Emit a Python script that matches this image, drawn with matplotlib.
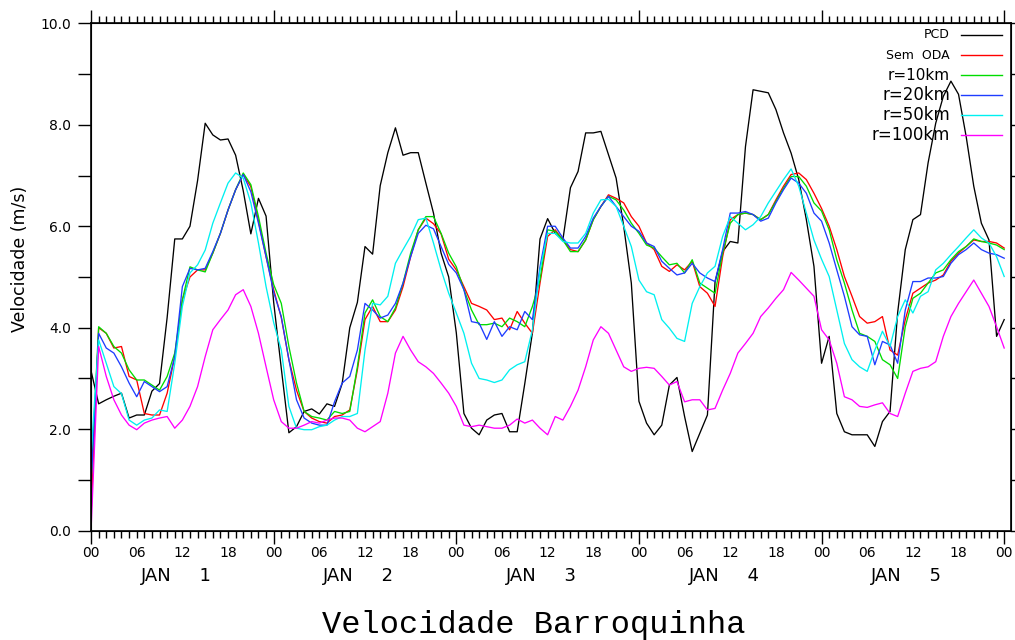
import numpy as np
import matplotlib
matplotlib.use('Agg')
import matplotlib.pyplot as plt
from matplotlib.ticker import MultipleLocator, FuncFormatter

# hourly time axis, 00Z Jan 1 to 00Z Jan 6
hours = np.arange(0, 121)
days = [1, 2, 3, 4, 5]

# observed wind speed (PCD station)
pcd = [3.15, 2.5, 2.58, 2.65, 2.71, 2.22, 2.28, 2.28, 2.75, 2.9, 4.2, 5.75, 5.75, 6.0, 6.9, 8.03, 7.8, 7.7, 7.72, 7.4, 6.7, 5.85, 6.55, 6.2,
       4.5, 3.2, 1.93, 2.05, 2.35, 2.4, 2.3, 2.5, 2.45, 2.9, 4.0, 4.5, 5.6, 5.45, 6.8, 7.45, 7.94, 7.4, 7.45, 7.45, 6.85, 6.26, 5.47, 5.0,
       3.9, 2.31, 2.02, 1.89, 2.18, 2.28, 2.31, 1.95, 1.95, 2.9, 3.9, 5.75, 6.15, 5.86, 5.73, 6.76, 7.08, 7.84, 7.84, 7.87, 7.41, 6.95, 6.0, 4.88,
       2.55, 2.12, 1.89, 2.08, 2.87, 3.02, 2.25, 1.56, 1.92, 2.28, 4.9, 5.5, 5.7, 5.67, 7.57, 8.69, 8.66, 8.63, 8.3, 7.84, 7.44, 6.92, 6.13, 5.21,
       3.3, 3.83, 2.31, 1.95, 1.89, 1.89, 1.89, 1.66, 2.15, 2.35, 4.3, 5.54, 6.13, 6.23, 7.25, 8.03, 8.56, 8.86, 8.6, 7.77, 6.79, 6.06, 5.73, 3.83, 4.16]

# model runs
sem_oda = [0.3, 4.0, 3.89, 3.6, 3.63, 3.04, 2.97, 2.31, 2.28, 2.28, 2.71, 3.43, 4.55, 5.0, 5.14, 5.14, 5.47, 5.86, 6.32, 6.72, 7.02, 6.78, 6.1, 5.4,
           4.75, 4.2, 3.37, 2.77, 2.35, 2.22, 2.15, 2.12, 2.25, 2.28, 2.38, 3.17, 4.16, 4.42, 4.12, 4.12, 4.35, 4.81, 5.4, 5.93, 6.16, 6.05, 5.85, 5.35,
           5.14, 4.81, 4.48, 4.42, 4.35, 4.16, 4.19, 3.96, 4.32, 4.09, 3.89, 4.88, 5.8, 5.93, 5.73, 5.54, 5.5, 5.73, 6.13, 6.39, 6.62, 6.55, 6.46, 6.19,
           6.0, 5.67, 5.54, 5.21, 5.11, 5.24, 5.14, 5.31, 4.81, 4.68, 4.42, 5.4, 6.13, 6.23, 6.26, 6.23, 6.13, 6.23, 6.52, 6.79, 7.02, 7.05, 6.92, 6.65,
           6.35, 6.0, 5.54, 5.01, 4.62, 4.22, 4.09, 4.12, 4.22, 3.56, 3.46, 4.16, 4.68, 4.78, 4.88, 4.94, 5.04, 5.31, 5.47, 5.6, 5.73, 5.7, 5.7, 5.67, 5.57]

r10 = [1.0, 4.02, 3.89, 3.63, 3.5, 3.17, 2.97, 2.97, 2.87, 2.77, 3.04, 3.5, 4.55, 5.2, 5.14, 5.1, 5.47, 5.86, 6.32, 6.72, 7.05, 6.82, 6.19, 5.47,
       4.85, 4.48, 3.63, 2.91, 2.35, 2.25, 2.22, 2.18, 2.35, 2.31, 2.35, 3.23, 4.29, 4.55, 4.22, 4.12, 4.39, 4.88, 5.47, 5.93, 6.19, 6.19, 5.86, 5.47,
       5.2, 4.75, 4.35, 4.06, 4.06, 4.09, 4.02, 4.19, 4.12, 4.02, 4.42, 4.94, 5.93, 5.9, 5.73, 5.5, 5.5, 5.73, 6.13, 6.39, 6.59, 6.52, 6.32, 6.06,
       5.86, 5.63, 5.57, 5.4, 5.24, 5.27, 5.08, 5.34, 4.88, 4.78, 4.68, 5.47, 6.06, 6.23, 6.26, 6.23, 6.13, 6.23, 6.49, 6.75, 6.98, 6.98, 6.79, 6.46,
       6.3, 5.93, 5.34, 4.88, 4.35, 3.89, 3.83, 3.73, 3.37, 3.27, 3.0, 4.02, 4.58, 4.68, 4.88, 5.08, 5.14, 5.34, 5.5, 5.6, 5.75, 5.7, 5.67, 5.63, 5.54]

r20 = [0.9, 3.89, 3.6, 3.5, 3.23, 2.91, 2.64, 2.94, 2.84, 2.74, 2.84, 3.43, 4.81, 5.17, 5.14, 5.17, 5.5, 5.86, 6.32, 6.72, 7.02, 6.68, 6.06, 5.4,
       4.7, 4.22, 3.37, 2.58, 2.22, 2.12, 2.08, 2.08, 2.54, 2.91, 3.04, 3.56, 4.48, 4.35, 4.19, 4.25, 4.48, 4.88, 5.4, 5.86, 6.02, 5.95, 5.6, 5.25,
       5.08, 4.75, 4.12, 4.09, 3.77, 4.12, 3.83, 4.02, 3.96, 4.32, 4.16, 5.2, 6.0, 6.0, 5.77, 5.57, 5.57, 5.8, 6.16, 6.39, 6.59, 6.39, 6.19, 6.0,
       5.9, 5.67, 5.6, 5.31, 5.17, 5.04, 5.08, 5.27, 5.08, 4.98, 4.91, 5.54, 6.26, 6.26, 6.29, 6.23, 6.1, 6.16, 6.46, 6.72, 6.95, 6.85, 6.65, 6.26,
       6.1, 5.67, 5.14, 4.62, 4.02, 3.86, 3.83, 3.27, 3.73, 3.66, 3.3, 4.35, 4.91, 4.91, 4.98, 4.98, 5.01, 5.27, 5.44, 5.54, 5.67, 5.54, 5.47, 5.44, 5.37]

r50 = [1.5, 3.76, 3.3, 2.84, 2.7, 2.18, 2.08, 2.18, 2.22, 2.38, 2.35, 3.3, 4.42, 5.08, 5.24, 5.53, 6.06, 6.46, 6.85, 7.05, 6.95, 6.46, 5.67, 4.81,
       4.1, 3.56, 2.45, 2.02, 1.99, 1.99, 2.05, 2.08, 2.18, 2.25, 2.25, 2.31, 3.56, 4.48, 4.45, 4.62, 5.27, 5.54, 5.8, 6.13, 6.16, 5.67, 5.14, 4.68,
       4.29, 3.89, 3.3, 3.0, 2.97, 2.92, 2.97, 3.17, 3.27, 3.33, 3.96, 5.14, 5.86, 5.86, 5.7, 5.67, 5.67, 5.86, 6.26, 6.52, 6.53, 6.39, 6.0, 5.6,
       4.94, 4.71, 4.65, 4.16, 3.99, 3.79, 3.73, 4.48, 4.81, 5.08, 5.21, 5.8, 6.19, 6.06, 5.93, 6.03, 6.19, 6.46, 6.69, 6.92, 7.13, 6.79, 6.26, 5.73,
       5.35, 5.01, 4.35, 3.69, 3.37, 3.23, 3.14, 3.56, 3.93, 3.63, 4.22, 4.55, 4.29, 4.62, 4.71, 5.14, 5.27, 5.44, 5.6, 5.77, 5.93, 5.77, 5.67, 5.4, 5.01]

r100 = [0.0, 3.63, 3.04, 2.58, 2.28, 2.08, 1.99, 2.12, 2.18, 2.22, 2.25, 2.02, 2.18, 2.45, 2.84, 3.43, 3.96, 4.16, 4.35, 4.65, 4.75, 4.42, 3.89, 3.23,
        2.58, 2.15, 2.02, 2.02, 2.08, 2.15, 2.12, 2.18, 2.22, 2.22, 2.18, 2.02, 1.95, 2.05, 2.15, 2.71, 3.5, 3.83, 3.56, 3.33, 3.23, 3.1, 2.91, 2.71,
        2.45, 2.08, 2.05, 2.08, 2.05, 2.02, 2.02, 2.08, 2.2, 2.12, 2.18, 2.02, 1.89, 2.25, 2.18, 2.45, 2.77, 3.23, 3.76, 4.02, 3.89, 3.56, 3.23, 3.14,
        3.2, 3.22, 3.2, 3.04, 2.87, 2.94, 2.54, 2.58, 2.58, 2.38, 2.41, 2.77, 3.1, 3.5, 3.69, 3.89, 4.22, 4.39, 4.58, 4.75, 5.09, 4.94, 4.78, 4.62,
        3.96, 3.76, 3.3, 2.64, 2.58, 2.45, 2.43, 2.48, 2.52, 2.31, 2.25, 2.71, 3.14, 3.2, 3.23, 3.33, 3.83, 4.22, 4.48, 4.71, 4.94, 4.68, 4.42, 4.02, 3.6]

names = ['PCD', 'Sem  ODA', 'r=10km', 'r=20km', 'r=50km', 'r=100km']
colors = ['black', '#ff0000', '#00dc00', '#1e3cff', '#00f0f0', '#ff00ff']
name_sizes = [9, 9, 11, 12, 12, 12]

fig = plt.figure(figsize=(10.15, 6.4), dpi=100)
ax = fig.add_axes([0.0897, 0.1708, 0.9064, 0.7928])

for vals, c in zip([pcd, sem_oda, r10, r20, r50, r100], colors):
    ax.plot(hours, vals, color=c, lw=0.95)

ax.set_xlim(0, 120.9)
ax.set_ylim(0, 10)
for s in ax.spines.values():
    s.set_linewidth(1.2)

# x axis: hourly ticks, long ones at 00Z
ax.xaxis.set_major_locator(MultipleLocator(24))
ax.xaxis.set_minor_locator(MultipleLocator(1))
ax.xaxis.set_major_formatter(FuncFormatter(lambda x, p: '00'))

def hour_label(x, p):
    h = int(round(x)) % 24
    if h % 6 == 0 and h != 0:
        return '%02d' % h
    return ''

ax.xaxis.set_minor_formatter(FuncFormatter(hour_label))
ax.tick_params(axis='x', which='major', length=9.5, width=1, direction='out',
               top=True, pad=1.8, labelsize=10)
ax.tick_params(axis='x', which='minor', length=4.7, width=1, direction='out',
               top=True, pad=6.6, labelsize=10)

# y axis
ax.yaxis.set_major_locator(MultipleLocator(2))
ax.yaxis.set_minor_locator(MultipleLocator(1))
ax.yaxis.set_major_formatter(FuncFormatter(lambda y, p: '%.1f' % y))
ax.tick_params(axis='y', which='both', length=9.4, width=1, direction='out',
               right=False, pad=5, labelsize=10)

ax2 = ax.twinx()
ax2.set_ylim(0, 10)
ax2.yaxis.set_major_locator(MultipleLocator(1))
ax2.tick_params(axis='y', length=3, width=1, direction='out', labelright=False)

# day labels under the hours
for d in days:
    ax.text((d - 1) * 24 + 11.2, -0.089, 'JAN     %d' % d, ha='center', va='center',
            fontsize=13, transform=ax.get_xaxis_transform())

# legend drawn GrADS style: name then a short line
row_y = [0.977, 0.9375, 0.898, 0.8587, 0.819, 0.7796]
for name, c, fs, yy in zip(names, colors, name_sizes, row_y):
    ax.text(0.9337, yy, name, ha='right', va='center', fontsize=fs,
            transform=ax.transAxes)
    ax.plot([0.9453, 0.990], [yy, yy], color=c, lw=1.0, transform=ax.transAxes)

fig.text(0.0197, 0.595, 'Velocidade (m/s)', rotation=90, ha='center',
         va='center', fontsize=12.5)
fig.text(0.526, 0.0234, 'Velocidade Barroquinha', ha='center', va='center',
         fontsize=23, family='Liberation Mono')

fig.savefig('out.png', dpi=100)
